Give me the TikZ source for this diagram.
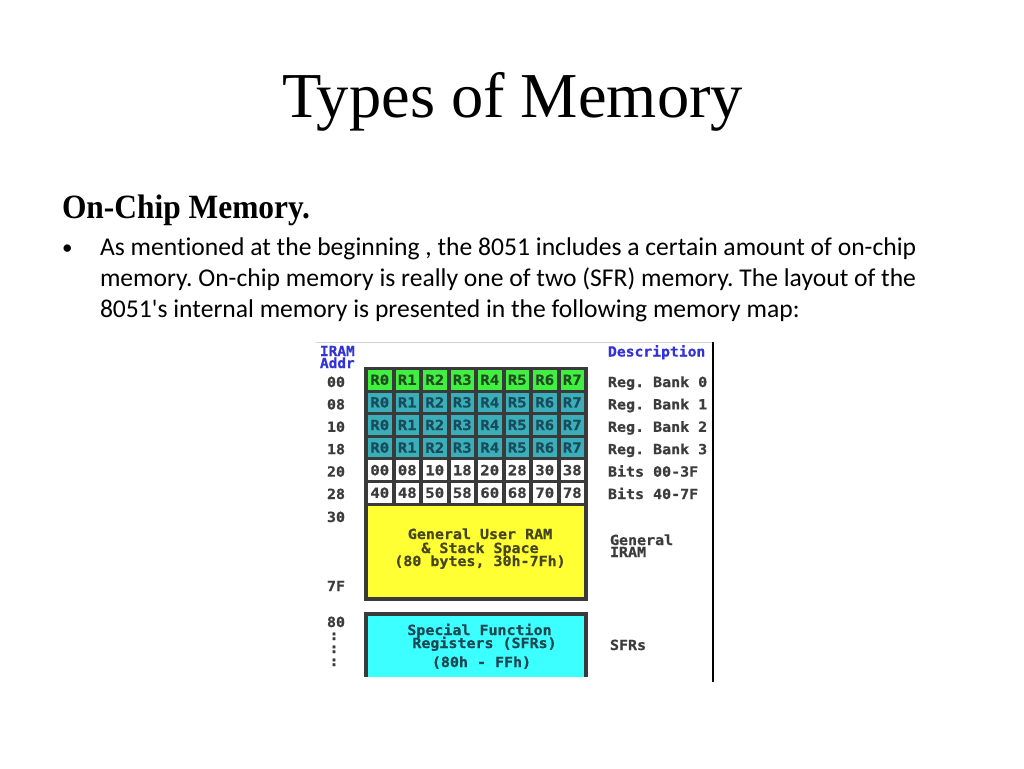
\documentclass[tikz,border=0pt]{standalone}
\usepackage{fontspec}
\usepackage{graphicx}
\frenchspacing
\newfontfamily\bodyfont{Carlito}[Ligatures=NoCommon]
\newfontfamily\headfont{Liberation Serif}
\newfontfamily\dosfont{DejaVu Sans Mono}[BoldFeatures={FakeBold=0.6}]
\newcommand{\dostxt}[2][1.07]{\scalebox{#1}[1]{\dosfont\bfseries\fontsize{14}{14}\selectfont #2}}
\definecolor{bluet}{RGB}{50,50,215}
\definecolor{grayt}{RGB}{60,60,60}
\definecolor{framec}{RGB}{58,58,58}
\definecolor{gcell}{RGB}{64,240,64}
\definecolor{gtext}{RGB}{35,75,35}
\definecolor{tcell}{RGB}{58,175,185}
\definecolor{ttext}{RGB}{25,75,90}
\definecolor{yelc}{RGB}{255,255,51}
\definecolor{cyanc}{RGB}{60,255,255}
\definecolor{ytext}{RGB}{70,70,30}
\definecolor{ctext}{RGB}{30,70,80}
\tikzset{
  txt/.style={anchor=base west, inner sep=0pt, outer sep=0pt},
  ctr/.style={anchor=base, inner sep=0pt, outer sep=0pt},
  block/.style={anchor=north west, inner sep=0pt, outer sep=0pt},
  cellbox/.style={anchor=center, inner sep=0pt, outer sep=0pt, minimum width=23.5pt, minimum height=19.5pt},
  addr/.style={anchor=base, inner sep=0pt, outer sep=0pt, text=grayt},
  desc/.style={anchor=base west, inner sep=0pt, outer sep=0pt, text=grayt},
  body/.style={anchor=base west, inner sep=0pt, outer sep=0pt, font=\bodyfont\fontsize{25.6}{31}\selectfont},
}
\begin{document}
\begin{tikzpicture}[x=1pt,y=-1pt]
\useasboundingbox (0,0) rectangle (1024,768);
\fill[white] (0,0) rectangle (1024,768);

% title and text
\node[txt] (title) at (282,117) {\resizebox{461pt}{\height}{\headfont\fontsize{64}{70}\selectfont Types of Memory}};
\node[txt] (head) at (62,218) {\resizebox{248pt}{\height}{\headfont\bfseries\fontsize{34}{40}\selectfont On-Chip Memory.}};
\node[body, font=\fontsize{21}{25}\selectfont] (bullet) at (62,254) {\bodyfont •};
\node[body] (l1) at (100,255) {As mentioned at the beginning , the 8051 includes a certain amount of on-chip};
\node[body] (l2) at (100,286) {memory. On-chip memory is really one of two (SFR) memory. The layout of the};
\node[body] (l3) at (100,317) {8051's internal memory is presented in the following memory map:};

% picture edges
\draw[gray!35, line width=1pt] (316,342) -- (712,342);
\draw[black, line width=1.3pt] (713,342) -- (713,682);

% headers
\node[txt, text=bluet] (iram) at (320,356) {\dostxt[1.03]{IRAM}};
\node[txt, text=bluet] (addrh) at (320,368) {\dostxt[1.03]{Addr}};
\node[txt, text=bluet] (desch) at (608,356.5) {\dostxt[1.05]{Description}};

% frames
\node[block, fill=framec, minimum width=224pt, minimum height=234pt] (frame1) at (364,366.5) {};
\node[block, fill=framec, minimum width=224pt, minimum height=65pt] (frame2) at (364,612) {};

% register banks
\foreach \r/\fc/\tc in {0/gcell/gtext,1/tcell/ttext,2/tcell/ttext,3/tcell/ttext}{
  \foreach \c in {0,...,7}{
    \node[cellbox, fill=\fc, text=\tc] (c\r\c) at (368+27.5*\c+11.75, 370+22.6*\r+9.75) {\dostxt[1.12]{R\c}};
  }
}
% bit rows
\foreach \c/\t in {0/00,1/08,2/10,3/18,4/20,5/28,6/30,7/38}{
  \node[cellbox, fill=white, text=grayt] (c4\c) at (368+27.5*\c+11.75, 370+22.6*4+9.75) {\dostxt[1.12]{\t}};
}
\foreach \c/\t in {0/40,1/48,2/50,3/58,4/60,5/68,6/70,7/78}{
  \node[cellbox, fill=white, text=grayt] (c5\c) at (368+27.5*\c+11.75, 370+22.6*5+9.75) {\dostxt[1.12]{\t}};
}

% general RAM
\node[block, fill=yelc, minimum width=216pt, minimum height=91pt] (gen) at (368,506) {};
\node[ctr, text=ytext] (gen1) at (480,539) {\dostxt{General User RAM}};
\node[ctr, text=ytext] (gen2) at (480,553) {\dostxt{\& Stack Space}};
\node[ctr, text=ytext] (gen3) at (480,566) {\dostxt{(80 bytes, 30h-7Fh)}};

% SFR
\node[block, fill=cyanc, minimum width=216pt, minimum height=61pt] (sfr) at (368,616) {};
\node[ctr, text=ctext] (sfr1) at (479.5,635) {\dostxt{Special Function}};
\node[ctr, text=ctext] (sfr2) at (484.5,648) {\dostxt{Registers (SFRs)}};
\node[ctr, text=ctext] (sfr3) at (481.5,667) {\dostxt{(80h - FFh)}};

% addresses
\foreach \j/\a in {0/00,1/08,2/10,3/18,4/20,5/28}{
  \node[addr] (a\j) at (336,387+22.4*\j) {\dostxt{\a}};
}
\node[addr] (a30) at (336,522) {\dostxt{30}};
\node[addr] (a7f) at (336,591) {\dostxt{7F}};
\node[addr] (a80) at (336,627) {\dostxt{80}};
\node[addr] (d1) at (334,640) {\dostxt{:}};
\node[addr] (d2) at (334,653) {\dostxt{:}};
\node[addr] (d3) at (334,666) {\dostxt{:}};

% descriptions
\foreach \j/\d in {0/Reg. Bank 0,1/Reg. Bank 1,2/Reg. Bank 2,3/Reg. Bank 3,4/Bits 00-3F,5/Bits 40-7F}{
  \node[desc] (e\j) at (608,387+22.4*\j) {\dostxt{\d}};
}
\node[desc] (eg1) at (610,545) {\dostxt{General}};
\node[desc] (eg2) at (610,557) {\dostxt{IRAM}};
\node[desc] (es) at (610,650) {\dostxt{SFRs}};
\end{tikzpicture}
\end{document}
